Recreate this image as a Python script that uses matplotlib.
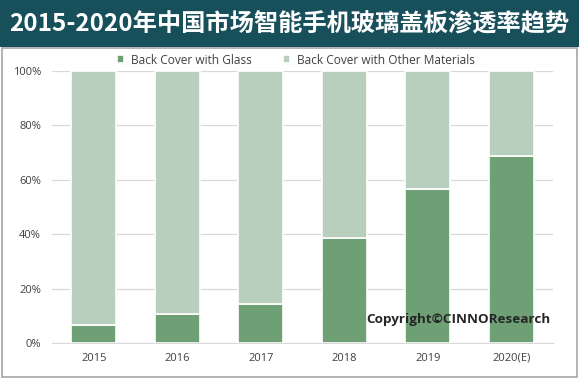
import matplotlib
matplotlib.use("Agg")
import matplotlib.pyplot as plt
from matplotlib.patches import Rectangle
import numpy as np

plt.rcParams['font.family'] = ['Noto Sans CJK SC', 'DejaVu Sans']

years = ["2015", "2016", "2017", "2018", "2019", "2020(E)"]
glass = [6.5, 10.6, 14.2, 38.6, 56.5, 68.7]
other = [100 - g for g in glass]
yticks = [0, 20, 40, 60, 80, 100]
title = "2015-2020年中国市场智能手机玻璃盖板渗透率趋势"
series_names = ["Back Cover with Glass", "Back Cover with Other Materials"]
c_glass = "#6e9f75"
c_other = "#b8cfbd"

W, H = 579, 378
fig = plt.figure(figsize=(W / 100, H / 100), dpi=100)
fig.patch.set_facecolor("white")

# banner
fig.patches.append(Rectangle((0, (H - 47) / H), 1, 47 / H, transform=fig.transFigure,
                             facecolor="#17505b", edgecolor="none", zorder=0))
# border
fig.patches.append(Rectangle((1.5 / W, 1.5 / H), (W - 4) / W, (H - 49) / H, transform=fig.transFigure,
                             facecolor="none", edgecolor="#a6a6a6", linewidth=1.2, zorder=1))
fig.text(289 / W, (H - 24) / H, title, color="white", fontsize=17.5, fontweight="bold",
         ha="center", va="center", family=['Noto Sans CJK SC', 'DejaVu Sans'])

ax = fig.add_axes([52 / W, (H - 343) / H, (553 - 52) / W, (343 - 71) / H])
x = np.arange(len(years))
w = 0.54
b1 = ax.bar(x, glass, width=w, color=c_glass, edgecolor="white", linewidth=1.2,
            label=series_names[0], zorder=3)
b2 = ax.bar(x, other, bottom=glass, width=w, color=c_other, edgecolor="white", linewidth=1.2,
            label=series_names[1], zorder=3)
ax.set_xlim(-0.5, len(years) - 0.5)
ax.set_ylim(0, 100)
ax.set_yticks(yticks)
ax.set_yticklabels([f"{v}%" for v in yticks])
ax.set_xticks(x)
ax.set_xticklabels(years)
ax.grid(axis="y", color="#d9d9d9", linewidth=0.9, zorder=0)
for s in ["top", "right", "left"]:
    ax.spines[s].set_visible(False)
ax.spines["bottom"].set_color("#d9d9d9")
ax.tick_params(axis="both", length=0, labelsize=8, colors="#404040", pad=7)
ax.tick_params(axis="y", pad=8)
for lbl in ax.get_xticklabels() + ax.get_yticklabels():
    lbl.set_family(['Open Sans', 'DejaVu Sans'])

leg = fig.legend(handles=[b1, b2], loc="center", bbox_to_anchor=(296 / W, (H - 60) / H),
                 ncol=2, frameon=False, handlelength=0.6, handleheight=0.6,
                 columnspacing=2.6, handletextpad=0.6, prop={'family': 'Open Sans', 'size': 8.6})
for t in leg.get_texts():
    t.set_color("#404040")

fig.text(458 / W, (H - 320) / H, "Copyright©CINNOResearch", fontsize=9.7, fontweight="bold",
         color="#262626", ha="center", va="center", family=['Open Sans', 'DejaVu Sans'])

fig.savefig("out.png", dpi=100)
